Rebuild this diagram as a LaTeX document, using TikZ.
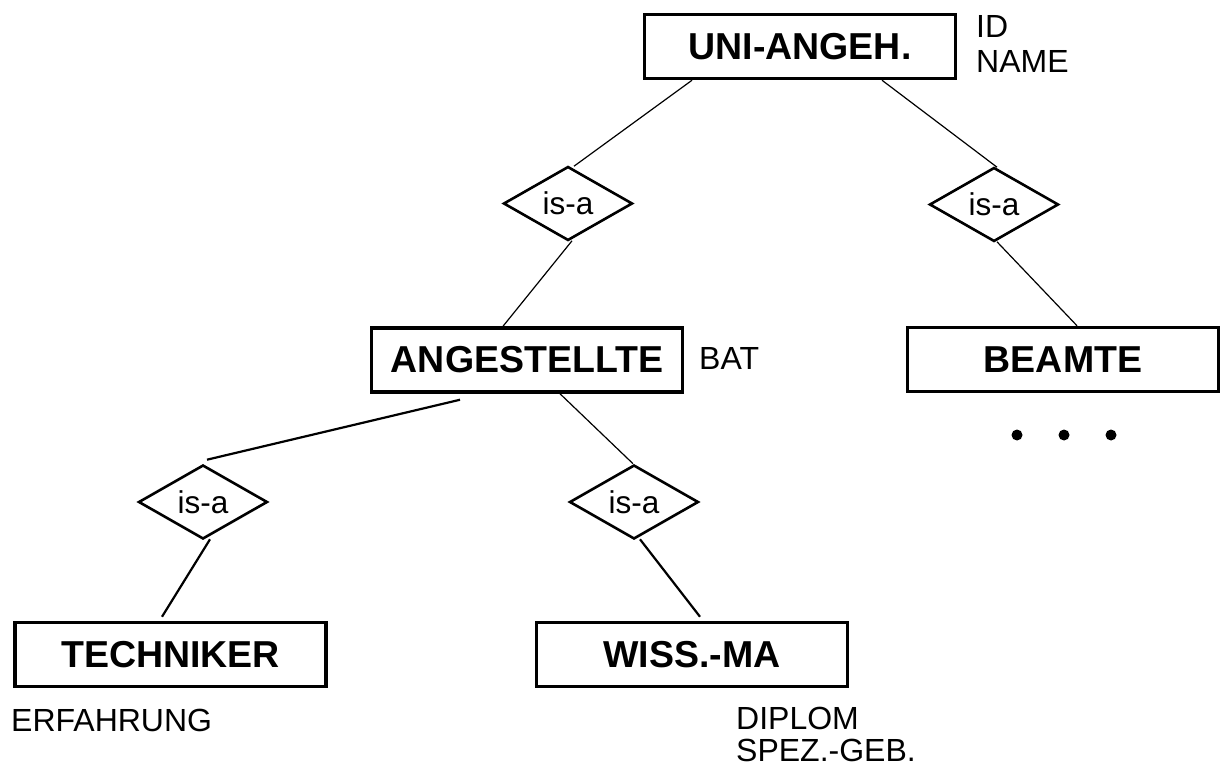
\documentclass[tikz,border=0pt]{standalone}
\usepackage{fontspec}
\setmainfont{Liberation Sans}
\usetikzlibrary{shapes.geometric,calc}
\begin{document}
\begin{tikzpicture}[x=1pt,y=-1pt,
  entity/.style={draw,line width=3.5pt,minimum width=311pt,minimum height=64pt,inner sep=0pt,
    font=\fontsize{37.5}{44}\selectfont\bfseries},
  isa/.style={draw,diamond,line width=2.6pt,minimum width=129pt,minimum height=74pt,inner sep=0pt,
    aspect=1.7,font=\fontsize{31.5}{34}\selectfont},
  attr/.style={anchor=base west,inner sep=0pt,font=\fontsize{32}{34}\selectfont},
  linkthin/.style={line width=1.2pt},
  linkbold/.style={line width=2.2pt},
  dotmark/.style={circle,fill,inner sep=0pt,minimum size=11pt}]
\useasboundingbox (0,0) rectangle (1222,767);

% entities
\node[entity] (uni)  at (800,46.5)  {UNI-ANGEH.};
\node[entity] (ang)  at (527,360)   {ANGESTELLTE};
\node[entity] (beam) at (1063,359.5){BEAMTE};
\node[entity] (tech) at (170.5,654.5){TECHNIKER};
\node[entity] (wiss) at (692,654.5) {WISS.-MA};

% is-a relationships
\node[isa] (d1) at (568,203.5) {is-a};
\node[isa] (d2) at (994,204.5) {is-a};
\node[isa] (d3) at (203,502)   {is-a};
\node[isa] (d4) at (634,502)   {is-a};

% attributes
\node[attr] (aid)   at (976,38)  {ID};
\node[attr] (aname) at (976,73)  {NAME};
\node[attr] (abat)  at (699,369) {BAT};
\node[attr] (aerf)  at (11,731)  {ERFAHRUNG};
\node[attr] (adip)  at (736,729) {DIPLOM};
\node[attr] (aspez) at (736,761) {SPEZ.-GEB.};

% dots
\node[dotmark] (p1) at (1017,435) {};
\node[dotmark] (p2) at (1064,435) {};
\node[dotmark] (p3) at (1111,435) {};

% connectors
\draw[linkthin] ($(uni.south)+(-108,0)$) -- ($(d1.north)+(6,1)$);
\draw[linkthin] ($(uni.south)+(82,0)$) -- ($(d2.north)+(3,1)$);
\draw[linkthin] ($(d1.south)+(4,-1)$) -- ($(ang.north)+(-24,0)$);
\draw[linkthin] ($(d2.south)+(3,-1)$) -- ($(beam.north)+(14,0)$);
\draw[linkbold] ($(ang.south)+(-67,6)$) -- ($(d3.north)+(4,-4)$);
\draw[linkthin] ($(ang.south)+(33,0)$) -- ($(d4.north)+(-1,0)$);
\draw[linkbold] ($(d3.south)+(7,-1)$) -- ($(tech.north)+(-8.5,-4)$);
\draw[linkbold] ($(d4.south)+(6,-1)$) -- ($(wiss.north)+(8,-4)$);
\end{tikzpicture}
\end{document}
